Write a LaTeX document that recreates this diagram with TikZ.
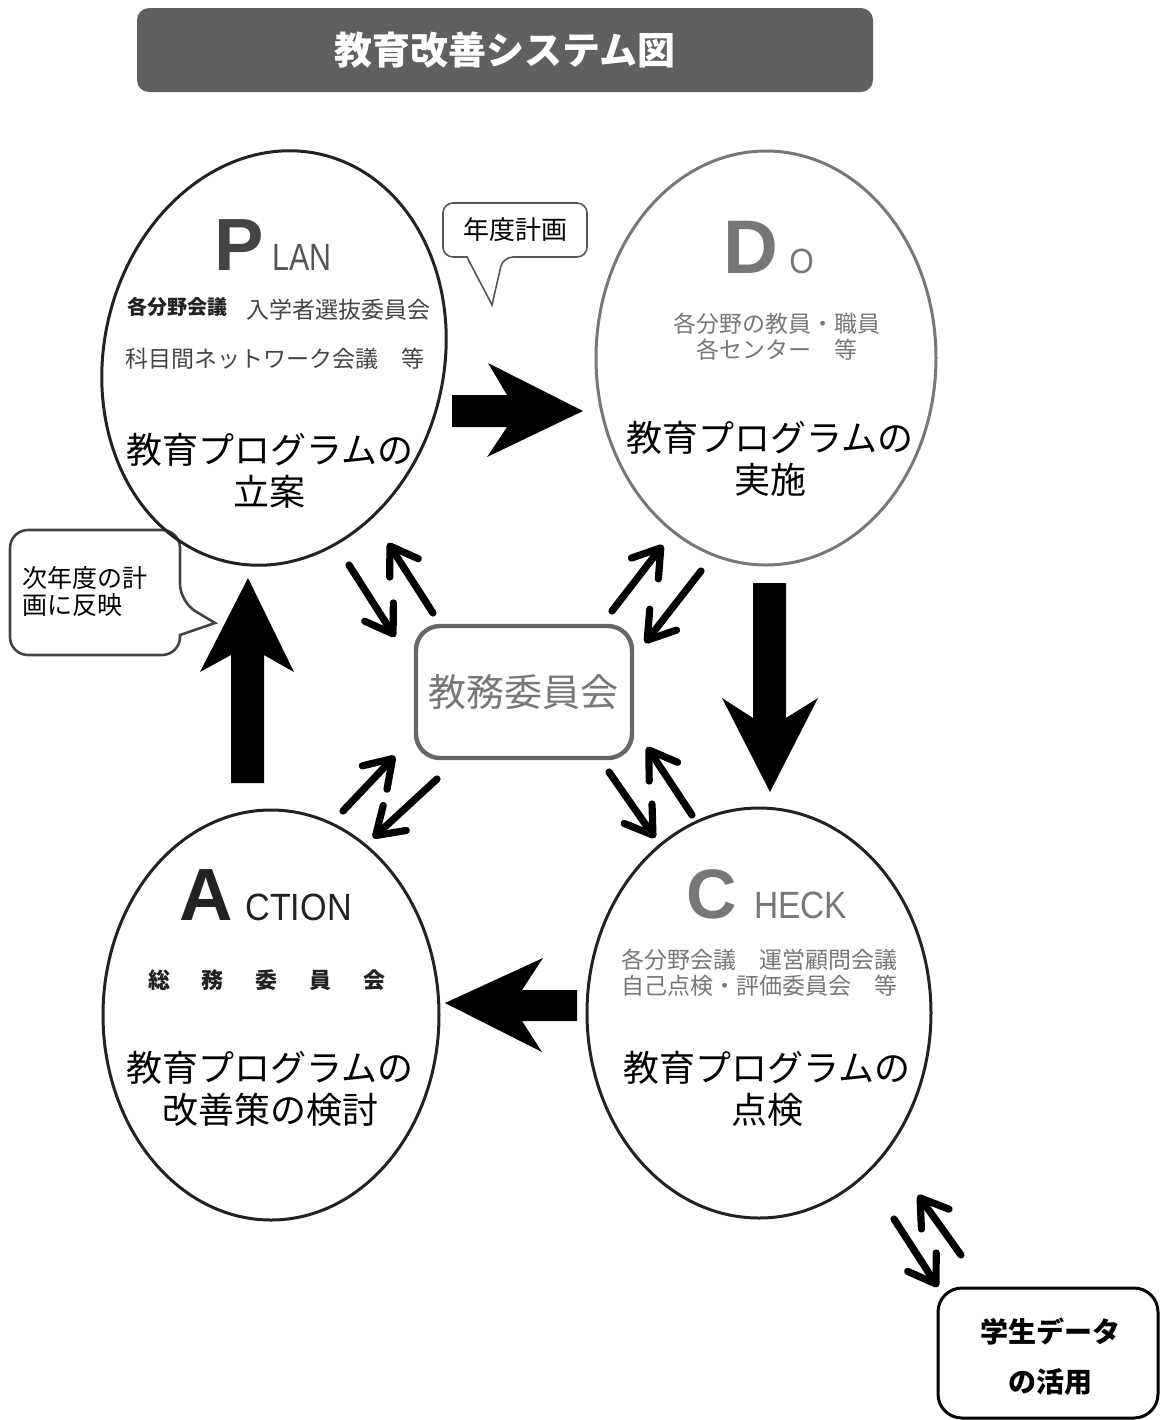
\documentclass[tikz,border=0pt]{standalone}
\usepackage{fontspec}
\usepackage{graphicx}
\setmainfont{Noto Sans CJK JP}
\newfontfamily\lat{Liberation Sans}
\usetikzlibrary{shapes.geometric,arrows.meta}
\definecolor{ttl}{HTML}{606060}
\definecolor{g77}{HTML}{777777}
\definecolor{g44}{HTML}{444444}
\definecolor{g55}{HTML}{555555}
\definecolor{g22}{HTML}{222222}
\definecolor{g66}{HTML}{666666}
\newcommand\myfs[2]{\fontsize{#1}{#2}\selectfont}
\begin{document}
\begin{tikzpicture}[x=0.5pt,y=-0.5pt,
  ell/.style={ellipse, draw=g22, line width=1.5pt, inner sep=0pt},
  dbl/.style={line width=3.6pt, line cap=round, -{Straight Barb[length=13pt,width=17pt,round]}},
  bigarrow/.style={fill=black},
  big/.style={inner sep=0pt, anchor=base west, font=\lat\bfseries\myfs{37}{40}},
  small/.style={inner sep=0pt, anchor=base west},
  maintxt/.style={align=center, inner sep=0pt, font=\myfs{18}{21}},
  subtxt/.style={align=center, inner sep=0pt, font=\myfs{11.5}{12.8}, text=g77}]
\useasboundingbox (0,0) rectangle (1160,1420);

% title
\node[fill=ttl, rounded corners=6pt, minimum width=368pt, minimum height=42pt, inner sep=0pt] (title) at (505,50) {};
\node[text=white, font=\bfseries\myfs{19}{22}] at (title.center) {教育改善システム図};

% bubble 次年度
\draw[draw=g44, line width=1.3pt, fill=white, rounded corners=9pt]
  (180,635) -- (180,655) -- (10,655) -- (10,530) -- (180,530) -- (180,602) [sharp corners] -- (215,623) -- cycle;
\node[anchor=west, align=left, inner sep=0pt, font=\myfs{12.5}{13.5}] (jinendo) at (22,591) {次年度の計\\画に反映};

% ellipses
\node[ell, rotate=-13, minimum width=170pt, minimum height=209pt] (plan) at (274,358) {};
\node[ell, draw=g77, minimum width=170pt, minimum height=207pt] (do) at (766,358) {};
\node[ell, minimum width=168pt, minimum height=205pt] (act) at (271,1015) {};
\node[ell, minimum width=172pt, minimum height=205pt] (chk) at (759,1013) {};

% PLAN
\node[big, text=g44] (P) at (214,270) {P};
\node[small, text=g55, font=\lat\myfs{19}{22}] (LAN) at (272,270) {\scalebox{0.8}[1]{LAN}};
\node[inner sep=0pt, anchor=west, text=g22, font=\bfseries\myfs{10}{12}] (p1) at (127,307) {各分野会議};
\node[inner sep=0pt, anchor=west, text=g44, font=\myfs{11.5}{13}] (p2) at (246,310) {入学者選抜委員会};
\node[inner sep=0pt, anchor=west, text=g44, font=\myfs{11.5}{13}] (p3) at (125,359) {科目間ネットワーク会議　等};
\node[maintxt] (pm) at (270,471) {教育プログラムの\\立案};

% DO
\node[big, text=g77, font=\lat\bfseries\myfs{38}{40}] (D) at (723,273) {D};
\node[small, text=g77, font=\lat\myfs{17.5}{20}] (O) at (789,273) {\scalebox{0.9}[1]{O}};
\node[subtxt] (d1) at (777,337) {各分野の教員・職員\\各センター　等};
\node[maintxt] (dm) at (770,459) {教育プログラムの\\実施};

% CHECK
\node[big, text=g77, font=\lat\bfseries\myfs{35}{40}] (C) at (686,918) {C};
\node[small, text=g77, font=\lat\myfs{19}{22}] (HECK) at (754,918) {\scalebox{0.88}[1]{HECK}};
\node[subtxt] (c1) at (759,973) {各分野会議　運営顧問会議\\自己点検・評価委員会　等};
\node[maintxt] (cm) at (767,1089) {教育プログラムの\\点検};

% ACTION
\node[big, text=g22] (A) at (179,920) {A};
\node[small, text=g22, font=\lat\myfs{19}{22}] (CTION) at (245,920) {\scalebox{0.9}[1]{CTION}};
\node[inner sep=0pt, text=g22, font=\bfseries\myfs{11}{13}] (a1) at (267,980) {総\hspace{16pt}務\hspace{16pt}委\hspace{16pt}員\hspace{16pt}会};
\node[maintxt] (am) at (270,1089) {教育プログラムの\\改善策の検討};

% center committee
\node[draw=g66, line width=2.2pt, rounded corners=12pt, minimum width=108pt, minimum height=66pt, inner sep=0pt] (ctr) at (524,692) {};
\node[text=g77, font=\myfs{19}{22}] at (523,692) {教務委員会};

% bubble 年度計画
\draw[draw=g55, line width=0.8pt, fill=white, rounded corners=5pt]
  (467,257) -- (443,257) -- (443,203) -- (587,203) -- (587,257) -- (503,257) [sharp corners] -- (492,305) -- cycle;
\node[font=\myfs{13}{15}] (nendo) at (515,230) {年度計画};

% data box
\node[draw=black, line width=1.5pt, rounded corners=12pt, minimum width=110pt, minimum height=65pt, inner sep=0pt] (data) at (1048,1353) {};
\node[align=center, font=\bfseries\myfs{14}{25}] at (1050,1357) {学生データ\\の活用};

% big arrows
\fill[bigarrow] (452,395) -- (507,395) -- (488,363) -- (583,411) -- (487,457) -- (507,427) -- (452,427) -- cycle;
\fill[bigarrow] (753,583) -- (786,583) -- (786,718) -- (818,698) -- (770,792) -- (722,698) -- (753,718) -- cycle;
\fill[bigarrow] (577,990) -- (522,990) -- (543,958) -- (445,1003) -- (542,1052) -- (522,1021) -- (577,1021) -- cycle;
\fill[bigarrow] (231,783) -- (264,783) -- (264,655) -- (294,672) -- (248,578) -- (200,672) -- (231,655) -- cycle;

% small double arrows
\draw[dbl] (349,565) -- (395,637);
\draw[dbl] (433,613) -- (388,543);
\draw[dbl] (612,611) -- (663,545);
\draw[dbl] (701,571) -- (645,643);
\draw[dbl] (343,811) -- (395,756);
\draw[dbl] (437,779) -- (373,838);
\draw[dbl] (609,772) -- (655,838);
\draw[dbl] (692,815) -- (647,747);
\draw[dbl] (894,1219) -- (938,1287);
\draw[dbl] (961,1255) -- (918,1195);
\end{tikzpicture}
\end{document}
